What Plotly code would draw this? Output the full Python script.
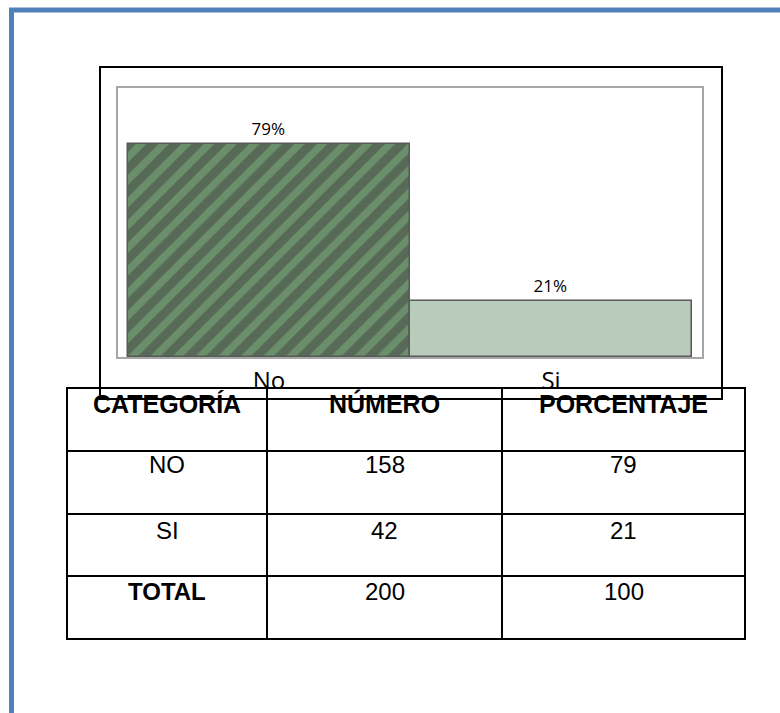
import plotly.graph_objects as go

# Survey answers and their share of the 200 respondents
categories = ["No", "Si"]
percentages = [79, 21]

# Summary table
table_headers = ["CATEGORÍA", "NÚMERO", "PORCENTAJE"]
row_labels = ["NO", "SI", "TOTAL"]
row_counts = [158, 42, 200]
row_percents = [79, 21, 100]

W, H = 780, 713


def px(x):
    return x / W


def py(y):
    return 1 - y / H


fig = go.Figure()

fig.add_trace(go.Bar(
    x=categories,
    y=percentages,
    width=1.0,
    marker=dict(
        color=["#6B8F6B", "#B9CBBB"],
        line=dict(color="#595959", width=1.5),
        pattern=dict(shape=["/", ""], fgcolor="#2F432F", size=16, solidity=0.55),
    ),
    texttemplate="%{y}%",
    textposition="outside",
    textfont=dict(family="Open Sans", size=17, color="#000000"),
    cliponaxis=False,
    hoverinfo="skip",
))

shapes = []

# Blue page frame (top and left edges)
shapes.append(dict(
    type="path", xref="paper", yref="paper",
    path=f"M {px(11.5)},{py(713)} L {px(11.5)},{py(10)} L {px(780)},{py(10)}",
    line=dict(color="#4F81BD", width=5), layer="above",
))

# Table cells (white fill hides the chart beneath)
col_edges = [67, 267, 502, 745]
row_edges = [388, 451, 514, 576, 639]
for r in range(len(row_edges) - 1):
    for c in range(len(col_edges) - 1):
        shapes.append(dict(
            type="rect", xref="paper", yref="paper",
            x0=px(col_edges[c]), x1=px(col_edges[c + 1]),
            y0=py(row_edges[r + 1]), y1=py(row_edges[r]),
            line=dict(color="#000000", width=2),
            fillcolor="#FFFFFF", layer="above",
        ))

# Chart frame drawn over the table header
shapes.append(dict(
    type="rect", xref="paper", yref="paper",
    x0=px(100), x1=px(722), y0=py(399), y1=py(67),
    line=dict(color="#000000", width=2), layer="above",
))

annotations = []
header_base = 414
row_base = [474, 540, 601]
col_centers = [(col_edges[i] + col_edges[i + 1]) / 2 for i in range(3)]

for i, h in enumerate(table_headers):
    annotations.append(dict(
        x=px(col_centers[i]), y=py(header_base), xref="paper", yref="paper",
        text=f"<b>{h}</b>", showarrow=False, xanchor="center", yanchor="bottom",
        yshift=-6,
        font=dict(family="Liberation Sans", size=25, color="#000000"),
    ))

for r in range(len(row_labels)):
    label = row_labels[r]
    label_text = f"<b>{label}</b>" if label == "TOTAL" else label
    values = [label_text, str(row_counts[r]), str(row_percents[r])]
    for c, v in enumerate(values):
        annotations.append(dict(
            x=px(col_centers[c]), y=py(row_base[r]), xref="paper", yref="paper",
            text=v, showarrow=False, xanchor="center", yanchor="bottom",
            yshift=-6,
            font=dict(family="Liberation Sans", size=24, color="#000000"),
        ))

pad = 10 / 282
fig.update_layout(
    width=W, height=H,
    margin=dict(l=0, r=0, t=0, b=0),
    paper_bgcolor="#FFFFFF",
    plot_bgcolor="#FFFFFF",
    showlegend=False,
    bargap=0,
    xaxis=dict(
        domain=[px(118), px(702)],
        range=[-0.5 - pad, 1.5 + pad],
        showline=True, mirror=True, linecolor="#A6A6A6", linewidth=2,
        showgrid=False, zeroline=False, ticks="",
        ticklabelstandoff=1,
        tickfont=dict(family="Open Sans", size=24, color="#000000"),
    ),
    yaxis=dict(
        domain=[py(357), py(88)],
        range=[0, 100],
        showline=True, mirror=True, linecolor="#A6A6A6", linewidth=2,
        showgrid=False, zeroline=False, showticklabels=False, ticks="",
    ),
    shapes=shapes,
    annotations=annotations,
)

fig.write_html("out.html")
